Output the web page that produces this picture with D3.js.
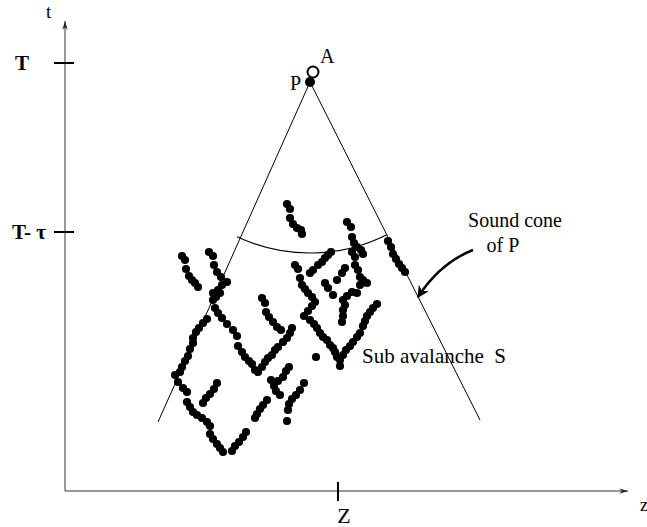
<!DOCTYPE html>
<html lang="en">
<head>
<meta charset="utf-8">
<title>Sound cone - sub avalanche</title>
<script src="https://cdnjs.cloudflare.com/ajax/libs/d3/7.8.5/d3.min.js"></script>
<style>
body { margin: 0; background: #fff; }
svg text { font-family: "Liberation Serif", "DejaVu Serif", serif; fill: #000; }
</style>
</head>
<body>
<div id="chart"></div>
<script>

// axis marks (t measured up from the z axis, z measured right from the t axis)
var tTicks = [{label: "T", t: 428}, {label: "T- \u03c4", t: 259}];
var zTicks = [{label: "Z", z: 273}];

// the event P, the point A just above it, and the cone edges
var pointP = [245, 409];
var pointA = [248, 419];
var coneEnds = [[93, 69], [415, 71]];
var coneArcRadius = 171;

// the sub avalanche, chain by chain [z, t]
var chains = [
  [[222,287],[225,282],[225,273],[228,267],[232,263],[236,261],[237,257]],
  [[282,269],[286,264],[287,254],[289,248],[292,244],[296,241],[298,237],[287,239],[290,234]],
  [[323,250],[326,244],[328,237],[331,232],[334,227],[337,223],[340,219]],
  [[117,235],[120,231],[121,222],[124,215],[127,211],[130,208],[133,204]],
  [[144,239],[148,235],[149,226],[152,219],[156,214],[162,209],[157,206],[153,201],[148,198],[155,198],[151,194],[148,191]],
  [[150,183],[153,178],[157,173],[162,167],[168,161],[172,155],[173,145],[177,139],[180,134],[184,130],[187,127],[190,121],[193,119]],
  [[197,124],[200,129],[203,133],[207,136],[210,141],[213,144],[218,149],[222,153],[225,158],[227,163]],
  [[197,193],[200,188],[201,179],[204,174],[208,169],[212,164],[216,161]],
  [[142,172],[138,168],[134,163],[131,159],[128,153],[128,148],[125,142],[123,135],[120,130],[117,124],[115,119],[110,116]],
  [[113,109],[118,103],[122,99],[122,89],[125,84],[128,79],[132,76],[137,73],[142,69],[145,65],[145,57],[148,52],[152,47],[155,43],[158,39]],
  [[167,40],[170,45],[174,49],[178,54],[181,59]],
  [[152,108],[149,102],[145,97],[141,93],[138,88]],
  [[224,124],[221,120],[218,114],[213,110],[206,111],[209,105],[211,100],[215,96]],
  [[239,108],[235,101],[231,96],[227,92],[224,87],[223,81],[222,70]],
  [[202,91],[198,86],[195,82],[192,77],[190,73]],
  [[230,226],[233,222],[235,213],[237,206],[240,202],[243,198],[247,194],[250,189]],
  [[245,218],[248,221],[253,226],[257,229],[260,233],[263,236],[266,239]],
  [[247,185],[243,180],[239,175]],
  [[245,171],[249,167],[252,163],[255,158],[258,154],[262,151],[265,146],[268,143],[270,139],[272,134],[275,131],[275,125]],
  [[278,136],[281,141],[285,145],[288,149],[292,154],[295,158],[298,165],[300,170],[302,175],[305,179],[308,183],[312,187]],
  [[251,134]],
  [[260,208],[263,203],[268,196],[272,211],[277,218],[280,223]],
  [[292,198],[287,199],[282,195],[278,191],[280,186],[278,181],[278,175],[277,169]],
  [[290,226],[293,221],[295,214],[298,211],[302,208],[295,206]]
];

var width = 647, height = 527;

var x = d3.scaleLinear().domain([0, 563]).range([65, 628]);
var y = d3.scaleLinear().domain([0, 470]).range([491, 21]);

var svg = d3.select("#chart").append("svg")
    .attr("width", width)
    .attr("height", height);

var defs = svg.append("defs");
defs.append("marker")
    .attr("id", "axisHead")
    .attr("viewBox", "0 -4 10 8")
    .attr("refX", 10).attr("refY", 0)
    .attr("markerWidth", 9).attr("markerHeight", 7)
    .attr("markerUnits", "userSpaceOnUse")
    .attr("orient", "auto")
    .append("path")
        .attr("d", "M0,-3L10,0L0,3L3,0Z")
        .attr("fill", "#222");
defs.append("marker")
    .attr("id", "noteHead")
    .attr("viewBox", "0 -5 10 10")
    .attr("refX", 9).attr("refY", 0)
    .attr("markerWidth", 12).attr("markerHeight", 12)
    .attr("markerUnits", "userSpaceOnUse")
    .attr("orient", "auto")
    .append("path")
        .attr("d", "M0,-5L10,0L0,5L3,0Z")
        .attr("fill", "#000");

// axes
svg.append("line")
    .attr("x1", x(0)).attr("y1", y(0))
    .attr("x2", x(0)).attr("y2", y(470))
    .attr("stroke", "#333").attr("stroke-width", 1)
    .attr("marker-end", "url(#axisHead)");
svg.append("line")
    .attr("x1", x(0)).attr("y1", y(0))
    .attr("x2", x(563)).attr("y2", y(0))
    .attr("stroke", "#333").attr("stroke-width", 1)
    .attr("marker-end", "url(#axisHead)");

svg.append("text").attr("x", x(0) - 19).attr("y", y(470) - 3)
    .attr("font-size", 19).text("t");
svg.append("text").attr("x", x(575)).attr("y", y(0) + 20)
    .attr("font-size", 18).text("z");

var tt = svg.selectAll(".ttick").data(tTicks).enter().append("g")
    .attr("class", "ttick")
    .attr("transform", function(d) { return "translate(" + x(0) + "," + y(d.t) + ")"; });
tt.append("line").attr("x1", -11).attr("x2", 9)
    .attr("stroke", "#000").attr("stroke-width", 2);
tt.append("text").attr("x", -19).attr("dy", "0.33em")
    .attr("text-anchor", "end").attr("font-size", 21).attr("font-weight", "bold")
    .text(function(d) { return d.label; });
// nudge the plain T label out to where it sits in the figure
tt.filter(function(d, i) { return i === 0; }).select("text").attr("x", -36);

var zt = svg.selectAll(".ztick").data(zTicks).enter().append("g")
    .attr("class", "ztick")
    .attr("transform", function(d) { return "translate(" + x(d.z) + "," + y(0) + ")"; });
zt.append("line").attr("y1", -9).attr("y2", 10)
    .attr("stroke", "#000").attr("stroke-width", 2);
zt.append("text").attr("x", 6).attr("y", 32)
    .attr("text-anchor", "middle").attr("font-size", 22)
    .text(function(d) { return d.label; });

// sound cone
var apex = [x(pointP[0]), y(pointP[1])];
var line = d3.line().x(function(d) { return x(d[0]); }).y(function(d) { return y(d[1]); });
coneEnds.forEach(function(e) {
    svg.append("path").attr("d", line([pointP, e]))
        .attr("fill", "none").attr("stroke", "#000").attr("stroke-width", 1);
});

var angles = coneEnds.map(function(e) {
    return Math.atan2(y(e[1]) - apex[1], x(e[0]) - apex[0]);
});
var arcPath = d3.path();
arcPath.arc(apex[0], apex[1], coneArcRadius, angles[0] + 0.02, angles[1], true);
svg.append("path").attr("d", arcPath.toString())
    .attr("fill", "none").attr("stroke", "#000").attr("stroke-width", 1.2);

// sub avalanche dots
var dots = [].concat.apply([], chains);
svg.append("g").selectAll("circle").data(dots).enter().append("circle")
    .attr("cx", function(d) { return x(d[0]); })
    .attr("cy", function(d) { return y(d[1]); })
    .attr("r", 4.1)
    .attr("fill", "#000");

// P and A
svg.append("circle").attr("cx", x(pointA[0])).attr("cy", y(pointA[1]))
    .attr("r", 5.5).attr("fill", "#fff").attr("stroke", "#000").attr("stroke-width", 2);
svg.append("circle").attr("cx", apex[0]).attr("cy", apex[1])
    .attr("r", 5).attr("fill", "#000");
svg.append("text").attr("x", x(pointA[0]) + 7).attr("y", y(pointA[1]) - 9)
    .attr("font-size", 20).text("A");
svg.append("text").attr("x", apex[0] - 20).attr("y", apex[1] + 8)
    .attr("font-size", 20).text("P");

// annotations
svg.append("text").attr("x", x(450)).attr("y", y(264))
    .attr("text-anchor", "middle").attr("font-size", 20).text("Sound cone");
svg.append("text").attr("x", x(438)).attr("y", y(239))
    .attr("text-anchor", "middle").attr("font-size", 20).text("of P");
svg.append("path")
    .attr("d", "M" + x(408) + "," + y(241) + "Q" + x(375) + "," + y(228) + " " + x(353) + "," + y(194))
    .attr("fill", "none").attr("stroke", "#000").attr("stroke-width", 2.5)
    .attr("marker-end", "url(#noteHead)");
svg.append("text").attr("x", x(297)).attr("y", y(128))
    .attr("font-size", 21).attr("xml:space", "preserve")
    .text("Sub avalanche  S");

</script>
</body>
</html>
